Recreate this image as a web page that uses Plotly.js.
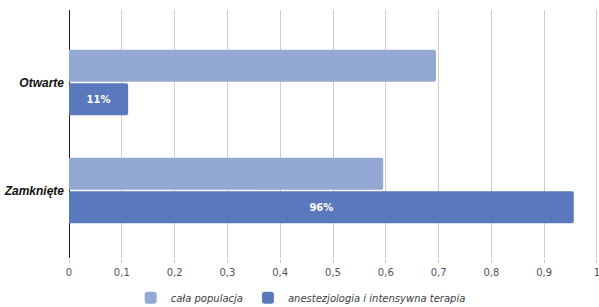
<!DOCTYPE html>
<html>
<head>
<meta charset="utf-8">
<script src="https://cdn.plot.ly/plotly-3.0.1.min.js"></script>
<style>html,body{margin:0;padding:0;background:#fff;}#chart{width:599px;height:307px;}</style>
</head>
<body>
<div id="chart"></div>
<script>
const categories = ["Otwarte", "Zamknięte"];
const seriesNames = ["cała populacja", "anestezjologia i intensywna terapia"];
const calaPopulacja = [0.695, 0.595];
const anestezjologia = [0.112, 0.956];
const anestezjologiaLabels = ["11%", "96%"];
const tickValues = [0, 0.1, 0.2, 0.3, 0.4, 0.5, 0.6, 0.7, 0.8, 0.9, 1];

const traces = [
  {
    type: "bar", orientation: "h", name: seriesNames[0],
    y: categories, x: calaPopulacja,
    marker: {color: "#94a8d4"},
    hoverinfo: "none"
  },
  {
    type: "bar", orientation: "h", name: seriesNames[1],
    y: categories, x: anestezjologia,
    text: anestezjologiaLabels, textposition: "inside", insidetextanchor: "middle",
    textfont: {family: "DejaVu Sans", size: 10, color: "#ffffff", weight: "bold"},
    marker: {color: "#5a78bc"},
    hoverinfo: "none"
  }
];

const layout = {
  width: 599, height: 307,
  margin: {l: 69, r: 0, t: 10, b: 49},
  paper_bgcolor: "#ffffff", plot_bgcolor: "#ffffff",
  separators: ", ",
  barmode: "group",
  bargap: 0.38,
  bargroupgap: 0.045,
  barcornerradius: 2,
  showlegend: true,
  legend: {
    orientation: "h", xref: "container", yref: "container",
    x: 0.502, xanchor: "center", y: 0.03, yanchor: "middle",
    font: {family: "DejaVu Sans", size: 10, color: "#404040", style: "italic"},
    traceorder: "normal"
  },
  xaxis: {
    range: [0, 1.0038], tickvals: tickValues, tickformat: ".1~f",
    showgrid: true, gridcolor: "#cccccc", gridwidth: 1,
    zeroline: true, zerolinecolor: "#222222", zerolinewidth: 1,
    showline: false, ticks: "outside", ticklen: 4, tickcolor: "#cccccc",
    ticklabelstandoff: 1, ticklabeloverflow: "allow",
    tickfont: {family: "DejaVu Sans", size: 10, color: "#555555"},
    fixedrange: true
  },
  yaxis: {
    type: "category", categoryorder: "array", categoryarray: categories,
    range: [1.625, -0.671],
    showgrid: false, zeroline: false, showline: false, ticks: "",
    tickfont: {family: "Liberation Sans", size: 12, color: "#111111", style: "italic", weight: "bold"},
    ticklabelstandoff: 4,
    fixedrange: true
  }
};

Plotly.newPlot("chart", traces, layout, {displayModeBar: false, staticPlot: true});
</script>
</body>
</html>
